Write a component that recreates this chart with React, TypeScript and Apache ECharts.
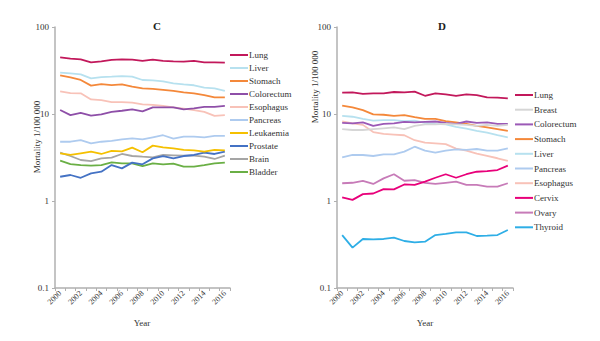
import React, { useEffect, useRef } from "react";
import * as echarts from "echarts";

const years = ["2000","2001","2002","2003","2004","2005","2006","2007","2008","2009","2010","2011","2012","2013","2014","2015","2016"];

// Panel C (males)
const cNames = ["Lung","Liver","Stomach","Colorectum","Esophagus","Pancreas","Leukaemia","Prostate","Brain","Bladder"];
const cLung = [44.8,43.3,42.5,39.3,40.3,41.8,42.5,42.1,40.7,42.1,40.7,40.3,40.0,40.7,39.3,39.3,38.9];
const cLiver = [29.9,29.3,28.6,25.7,26.6,26.9,27.3,26.9,24.6,24.4,23.7,22.5,21.9,21.4,20.1,19.7,18.5];
const cStomach = [27.8,26.4,24.6,21.2,22.1,21.5,21.9,20.6,19.7,19.4,18.9,18.4,17.7,17.3,16.5,15.5,15.5];
const cColorectum = [11.1,9.7,10.3,9.6,9.9,10.6,10.9,11.3,10.7,11.9,11.9,11.9,11.3,11.6,12.1,12.1,12.4];
const cEsophagus = [18.2,17.4,17.3,14.7,14.4,13.7,13.7,13.5,12.9,12.7,12.4,11.9,11.5,11.1,10.6,9.5,9.7];
const cPancreas = [4.8,4.8,5.0,4.6,4.8,4.9,5.1,5.25,5.1,5.4,5.7,5.2,5.5,5.5,5.4,5.6,5.6];
const cLeukaemia = [3.53,3.38,3.53,3.69,3.47,3.76,3.72,4.1,3.63,4.33,4.14,4.03,3.86,3.82,3.69,3.86,3.82];
const cProstate = [1.9,1.99,1.85,2.08,2.17,2.59,2.37,2.76,2.64,3.09,3.29,3.09,3.29,3.38,3.59,3.47,3.69];
const cBrain = [3.59,3.29,2.96,2.88,3.09,3.15,3.47,3.29,3.23,3.18,3.38,3.35,3.32,3.32,3.23,3.04,3.32];
const cBladder = [2.91,2.66,2.59,2.55,2.59,2.78,2.71,2.71,2.52,2.71,2.64,2.69,2.48,2.48,2.59,2.71,2.76];
const cColors = ["#c2185b","#b7e1ef","#f4883a","#8e4fa8","#f8c2b8","#aecbef","#f5c000","#4472c4","#a5a5a5","#6aaf45"];

// Panel D (females)
const dNames = ["Lung","Breast","Colorectum","Stomach","Liver","Pancreas","Esophagus","Cervix","Ovary","Thyroid"];
const dLung = [17.6,17.7,17.0,17.3,17.3,17.9,17.7,18.1,16.2,17.3,16.8,16.2,16.8,16.5,15.5,15.4,15.1];
const dBreast = [6.7,6.55,6.55,6.7,6.85,7.0,6.7,7.3,7.6,7.6,7.7,7.6,7.5,7.3,7.5,7.3,7.5];
const dColorectum = [7.9,7.8,8.0,7.3,7.7,7.8,8.1,8.0,8.1,8.2,7.9,7.7,8.2,7.9,8.0,7.7,7.7];
const dStomach = [12.5,11.9,11.1,9.9,9.8,9.5,9.7,9.2,8.8,8.8,8.3,8.0,7.7,7.3,7.0,6.7,6.4];
const dLiver = [9.5,9.3,8.8,8.4,8.5,8.5,8.3,8.4,7.9,7.7,7.6,7.1,6.8,6.4,6.1,5.7,5.4];
const dPancreas = [3.18,3.38,3.38,3.29,3.44,3.44,3.69,4.21,3.79,3.59,3.79,3.93,3.86,3.96,3.79,3.79,4.03];
const dEsophagus = [8.2,7.8,7.5,6.2,5.9,5.8,5.7,5.0,4.7,4.6,4.5,4.0,3.8,3.5,3.3,3.1,2.9];
const dCervix = [1.1,1.03,1.2,1.22,1.37,1.36,1.55,1.53,1.67,1.85,2.03,1.85,2.03,2.17,2.21,2.27,2.55];
const dOvary = [1.6,1.62,1.7,1.57,1.82,2.03,1.71,1.74,1.62,1.57,1.62,1.67,1.53,1.53,1.46,1.46,1.6];
const dThyroid = [0.406,0.291,0.366,0.363,0.366,0.379,0.347,0.335,0.341,0.406,0.418,0.436,0.436,0.396,0.4,0.406,0.464];
const dColors = ["#c2185b","#d6d6d6","#9b59b6","#f4883a","#b7e1ef","#aecbef","#f8c2b8","#e8007a","#c77bb8","#2eaee6"];

const cData = [cLung,cLiver,cStomach,cColorectum,cEsophagus,cPancreas,cLeukaemia,cProstate,cBrain,cBladder];
const dData = [dLung,dBreast,dColorectum,dStomach,dLiver,dPancreas,dEsophagus,dCervix,dOvary,dThyroid];

const FONT = "Liberation Serif";

export default function App() {
  const ref = useRef<HTMLDivElement>(null);
  useEffect(() => {
    const chart = echarts.init(ref.current!, null, { renderer: "svg" });
    const xAxisBase = (gridIndex: number) => ({
      type: "category",
      gridIndex,
      data: years,
      boundaryGap: true,
      axisLine: { lineStyle: { color: "#b0b0b0", width: 1.5 } },
      axisTick: { show: true, interval: 0, length: 3, lineStyle: { color: "#b0b0b0" } },
      axisLabel: { interval: 1, rotate: 45, fontFamily: FONT, fontSize: 8, color: "#333", margin: 4 },
      splitLine: { show: false },
    });
    const yAxisBase = (gridIndex: number) => ({
      type: "log",
      logBase: 10,
      gridIndex,
      min: 0.1,
      max: 100,
      axisLine: { show: true, lineStyle: { color: "#b0b0b0", width: 1.5 } },
      axisTick: { show: true, length: 3, lineStyle: { color: "#b0b0b0" } },
      axisLabel: {
        fontFamily: FONT, fontSize: 9, color: "#333", margin: 6,
        formatter: (v: number) => (v < 1 ? "0.1" : String(Math.round(v))),
      },
      splitLine: { show: false },
    });
    const mk = (prefix: string, names: string[], data: number[][], colors: string[], idx: number) =>
      names.map((n, i) => ({
        type: "line",
        name: prefix + ":" + n,
        xAxisIndex: idx,
        yAxisIndex: idx,
        data: data[i],
        symbol: "none",
        showSymbol: false,
        color: colors[i],
        lineStyle: { width: 1.8, color: colors[i] },
        z: 10 - i,
      }));
    const legendText = { fontFamily: FONT, fontSize: 9, color: "#333", lineHeight: 10, padding: [0, 0, 0, -4] };
    chart.setOption({
      animation: false,
      grid: [
        { left: 55, right: 370, top: 27, bottom: 53 },
        { left: 337, right: 87, top: 27, bottom: 53 },
      ],
      xAxis: [xAxisBase(0), xAxisBase(1)],
      yAxis: [yAxisBase(0), yAxisBase(1)],
      legend: [
        {
          orient: "vertical",
          left: 230,
          top: 50,
          padding: 0,
          icon: "rect",
          itemWidth: 18,
          itemHeight: 2,
          itemGap: 3,
          data: cNames.map((n) => "C:" + n),
          formatter: (n: string) => n.split(":")[1],
          textStyle: legendText,
        },
        {
          orient: "vertical",
          left: 515,
          top: 90,
          padding: 0,
          icon: "rect",
          itemWidth: 18,
          itemHeight: 2,
          itemGap: 4.7,
          data: dNames.map((n) => "D:" + n),
          formatter: (n: string) => n.split(":")[1],
          textStyle: legendText,
        },
      ],
      graphic: [
        { type: "text", left: 153, top: 20, style: { text: "C", font: "bold 11px " + FONT, fill: "#222" } },
        { type: "text", left: 438, top: 20, style: { text: "D", font: "bold 11px " + FONT, fill: "#222" } },
        { type: "text", x: 37, y: 137, rotation: Math.PI / 2, style: { text: "Mortality 1/100 000", font: "9px " + FONT, fill: "#333", align: "center", verticalAlign: "middle" } },
        { type: "text", x: 315, y: 87, rotation: Math.PI / 2, style: { text: "Mortality 1/100 000", font: "9px " + FONT, fill: "#333", align: "center", verticalAlign: "middle" } },
        { type: "text", x: 142, y: 323, style: { text: "Year", font: "9px " + FONT, fill: "#333", align: "center", verticalAlign: "middle" } },
        { type: "text", x: 425, y: 323, style: { text: "Year", font: "9px " + FONT, fill: "#333", align: "center", verticalAlign: "middle" } },
      ],
      series: [
        ...mk("C", cNames, cData, cColors, 0),
        ...mk("D", dNames, dData, dColors, 1),
      ],
    });
    return () => chart.dispose();
  }, []);
  return <div ref={ref} style={{ width: 600, height: 341, position: "absolute", left: 0, top: 0, background: "#fff" }} />;
}
